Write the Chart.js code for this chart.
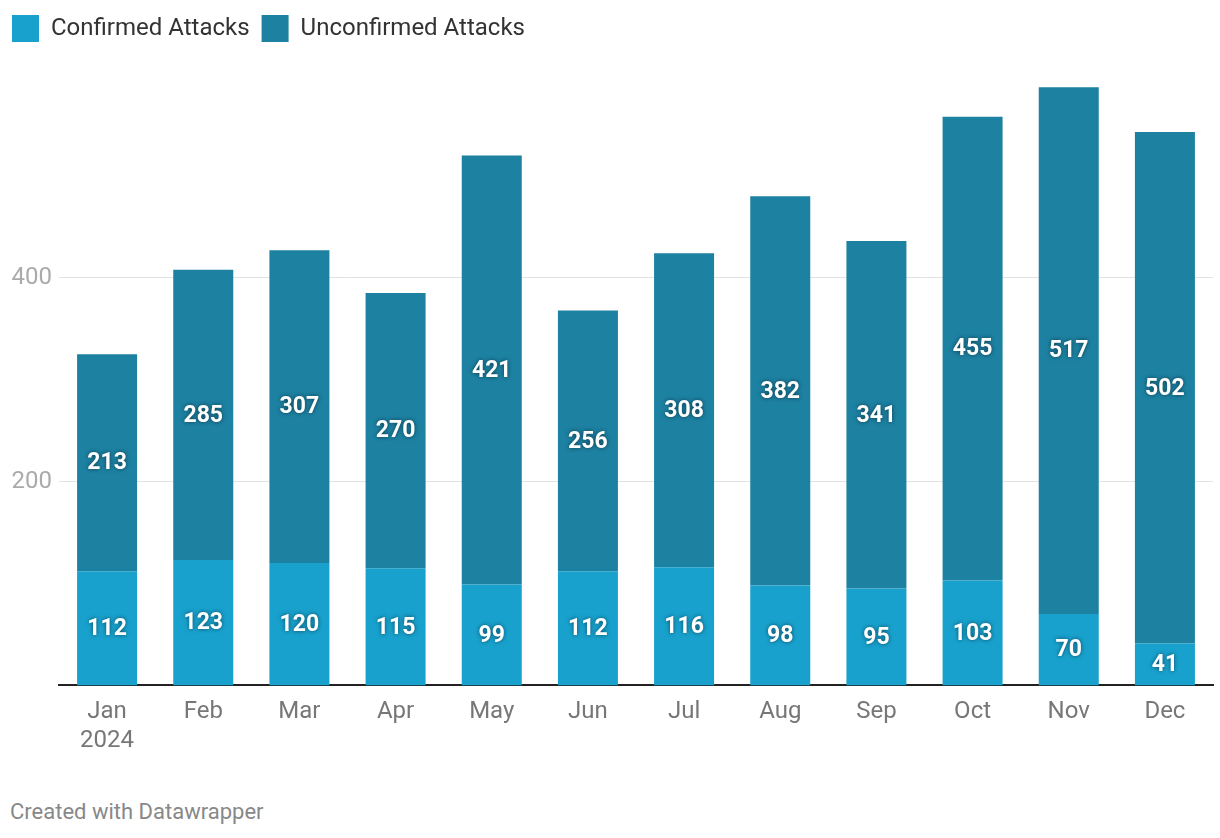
<!DOCTYPE html>
<html lang="en">
<head>
  <meta charset="UTF-8">
  <title>Attacks 2024</title>
  <script src="https://cdn.jsdelivr.net/npm/chart.js"></script>
  <style>
    body { margin: 0; background: #fff; font-family: Roboto, sans-serif; }
    #wrap { position: relative; width: 1220px; height: 838px; }
    #footer { position: absolute; left: 10px; top: 799px; font-size: 22px; color: #888; }
  </style>
</head>
<body>
  <div id="wrap">
    <canvas id="chart" width="1220" height="759"></canvas>
    <div id="footer">Created with Datawrapper</div>
  </div>

  <script>
    const months = [['Jan', '2024'], 'Feb', 'Mar', 'Apr', 'May', 'Jun', 'Jul', 'Aug', 'Sep', 'Oct', 'Nov', 'Dec'];
    const confirmed = [112, 123, 120, 115, 99, 112, 116, 98, 95, 103, 70, 41];
    const unconfirmed = [213, 285, 307, 270, 421, 256, 308, 382, 341, 455, 517, 502];
    const yTicks = [200, 400];

    // white bold numbers in the middle of every segment
    const segmentLabels = {
      id: 'segmentLabels',
      afterDatasetsDraw(chart) {
        const ctx = chart.ctx;
        ctx.save();
        ctx.font = 'bold 23px Roboto';
        ctx.fillStyle = '#fff';
        ctx.textAlign = 'center';
        ctx.textBaseline = 'middle';
        ctx.shadowColor = 'rgba(0,0,0,0.55)';
        ctx.shadowBlur = 4;
        chart.data.datasets.forEach((ds, i) => {
          chart.getDatasetMeta(i).data.forEach((bar, j) => {
            const mid = (bar.y + bar.base) / 2;
            ctx.fillText(ds.data[j], bar.x, mid + 1);
          });
        });
        ctx.restore();
      }
    };

    // extra room between legend and the bars
    const legendGap = {
      id: 'legendGap',
      beforeInit(chart) {
        const fit = chart.legend.fit;
        chart.legend.fit = function () {
          fit.call(this);
          this.height += 22;
        };
      }
    };

    new Chart(document.getElementById('chart'), {
      type: 'bar',
      data: {
        labels: months,
        datasets: [
          { label: 'Confirmed Attacks', data: confirmed, backgroundColor: '#18a1cd' },
          { label: 'Unconfirmed Attacks', data: unconfirmed, backgroundColor: '#1d81a2' }
        ]
      },
      options: {
        responsive: false,
        animation: false,
        barPercentage: 0.624,
        categoryPercentage: 1,
        layout: { padding: { left: 0, right: 7, top: 3, bottom: 0 } },
        plugins: {
          tooltip: { enabled: false },
          legend: {
            position: 'top',
            align: 'start',
            labels: {
              boxWidth: 27,
              boxHeight: 27,
              padding: 12,
              color: '#333',
              font: { family: 'Roboto', size: 24 }
            }
          }
        },
        scales: {
          x: {
            stacked: true,
            grid: { display: false },
            border: { color: '#222', width: 2 },
            ticks: { color: '#777', font: { family: 'Roboto', size: 24 }, padding: 4, maxRotation: 0 }
          },
          y: {
            stacked: true,
            min: 0,
            max: 600,
            afterFit(scale) { scale.width = 59; },
            afterBuildTicks(scale) { scale.ticks = yTicks.map(v => ({ value: v })); },
            border: { display: false },
            grid: { color: '#e2e2e2', lineWidth: 1, drawTicks: false },
            ticks: { color: '#aaa', font: { family: 'Roboto', size: 24 }, padding: 7 }
          }
        }
      },
      plugins: [segmentLabels, legendGap]
    });
  </script>
</body>
</html>
